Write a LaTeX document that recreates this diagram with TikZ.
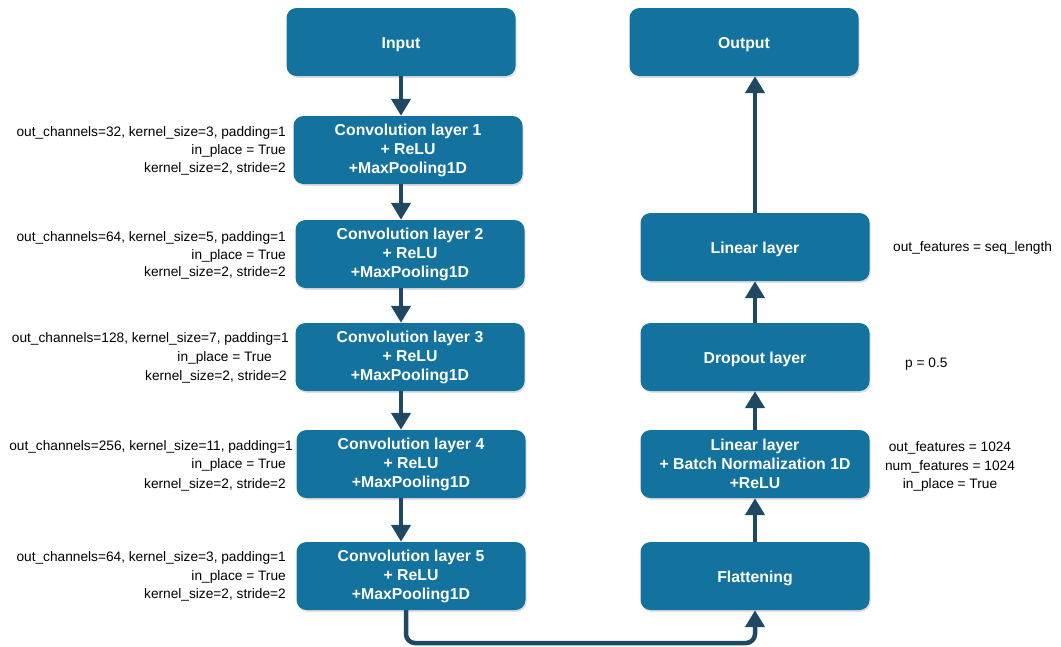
\documentclass[tikz,border=0pt]{standalone}
\usepackage{fontspec}
\setmainfont{Liberation Sans}
\usetikzlibrary{arrows.meta,shadows}
\definecolor{boxblue}{HTML}{13739E}
\definecolor{arrowc}{HTML}{1F4863}
\begin{document}
\begin{tikzpicture}[x=1pt,y=-1pt,
  blk/.style={rounded corners=10pt, fill=boxblue, text=white, align=center,
    font=\bfseries\fontsize{15.8}{19}\selectfont, minimum width=229pt,
    minimum height=68pt, inner sep=0pt,
    execute at begin node={\rule{0pt}{15.5pt}},
    drop shadow={opacity=0.25, shadow xshift=1.2pt, shadow yshift=-1.8pt}},
  lbl/.style={font=\fontsize{13.7}{18}\selectfont, inner sep=0pt, text height=9pt, text depth=3pt, yshift=-1.5pt},
  conn/.style={draw=arrowc, line width=4.5pt, -{Triangle[width=19pt,length=17pt]}},
  conn2/.style={draw=arrowc, line width=4.5pt, rounded corners=9pt, -{Triangle[width=19pt,length=17pt]}}
]
\useasboundingbox (0,0) rectangle (1061,646);
% left column
\node[blk] (in) at (401,42) {Input};
\node[blk] (c1) at (408,150) {Convolution layer 1\\+ ReLU\\+MaxPooling1D};
\node[blk] (c2) at (410,254) {Convolution layer 2\\+ ReLU\\+MaxPooling1D};
\node[blk] (c3) at (410,357) {Convolution layer 3\\+ ReLU\\+MaxPooling1D};
\node[blk] (c4) at (411,464) {Convolution layer 4\\+ ReLU\\+MaxPooling1D};
\node[blk] (c5) at (411,576) {Convolution layer 5\\+ ReLU\\+MaxPooling1D};
% right column
\node[blk] (out) at (744,42) {Output};
\node[blk] (lin) at (755,247) {Linear layer};
\node[blk] (drop) at (755,357) {Dropout layer};
\node[blk] (lbn) at (755,464) {Linear layer\\+ Batch Normalization 1D\\+ReLU};
\node[blk] (flat) at (755,576) {Flattening};
% connectors
\coordinate (ax) at (401,0);
\draw[conn] (in.south) -- (in.south |- c1.north);
\draw[conn] (c1.south -| ax) -- (c2.north -| ax);
\draw[conn] (c2.south -| ax) -- (c3.north -| ax);
\draw[conn] (c3.south -| ax) -- (c4.north -| ax);
\draw[conn] (c4.south -| ax) -- (c5.north -| ax);
\coordinate (bx) at (406,643);
\draw[conn2] (c5.south -| bx) -- (bx) -| (flat.south);
\draw[conn] (flat.north) -- (lbn.south);
\draw[conn] (lbn.north) -- (drop.south);
\draw[conn] (drop.north) -- (lin.south);
\draw[conn] (lin.north) -- (lin.north |- out.south);
% left labels
\node[lbl, anchor=east] (l1a) at (286,132) {out\_channels=32, kernel\_size=3, padding=1};
\node[lbl, anchor=east] (l1b) at (286,150) {in\_place = True};
\node[lbl, anchor=east] (l1c) at (286,168) {kernel\_size=2, stride=2};
\node[lbl, anchor=east] (l2a) at (286,237) {out\_channels=64, kernel\_size=5, padding=1};
\node[lbl, anchor=east] (l2b) at (286,255) {in\_place = True};
\node[lbl, anchor=east] (l2c) at (286,272) {kernel\_size=2, stride=2};
\node[lbl, anchor=east] (l3a) at (289,338) {out\_channels=128, kernel\_size=7, padding=1};
\node[lbl, anchor=east] (l3b) at (272,357) {in\_place = True};
\node[lbl, anchor=east] (l3c) at (287,376) {kernel\_size=2, stride=2};
\node[lbl, anchor=east] (l4a) at (293,446) {out\_channels=256, kernel\_size=11, padding=1};
\node[lbl, anchor=east] (l4b) at (286,464) {in\_place = True};
\node[lbl, anchor=east] (l4c) at (286,484) {kernel\_size=2, stride=2};
\node[lbl, anchor=east] (l5a) at (286,557) {out\_channels=64, kernel\_size=3, padding=1};
\node[lbl, anchor=east] (l5b) at (286,576) {in\_place = True};
\node[lbl, anchor=east] (l5c) at (286,594) {kernel\_size=2, stride=2};
% right labels
\node[lbl, anchor=west] (r1) at (893,247) {out\_features = seq\_length};
\node[lbl, anchor=west] (r2) at (905,363) {p = 0.5};
\node[lbl] (r3a) at (950,447) {out\_features = 1024};
\node[lbl] (r3b) at (950,466) {num\_features = 1024};
\node[lbl] (r3c) at (950,484) {in\_place = True};
\end{tikzpicture}
\end{document}
